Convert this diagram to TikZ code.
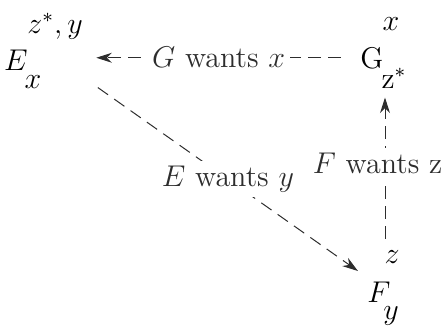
\documentclass[tikz,border=0pt]{standalone}
\usetikzlibrary{arrows.meta}
\definecolor{wline}{RGB}{45,45,45}
\tikzset{
  pnode/.style={inner sep=0pt, anchor=base, font=\large},
  pscr/.style={inner sep=0pt, anchor=base, font=\large},
  dep/.style={wline, thin, dash pattern=on 5pt off 3pt, -{Stealth[length=2.2mm,width=1.4mm]}},
  wlab/.style={fill=white, inner sep=2pt, font=\large},
}

\begin{document}
\begin{tikzpicture}[x=0.4pt,y=-0.4pt]
\useasboundingbox (0,0) rectangle (445,329);
% agents and what they hold
\node[pnode] (E) at (16,70) {$E$};
\node[pscr] (Ezy) at (55,33) {$z^*,y$};
\node[pscr] (Ex) at (33,88) {$x$};
\node[pnode] (G) at (372,68) {$\mathrm{G}$};
\node[pscr] (Gx) at (391,30) {$x$};
\node[pscr] (Gz) at (394,88) {$\mathrm{z}^*$};
\node[pnode] (F) at (379,302) {$F$};
\node[pscr] (Fz) at (392,263) {$z$};
\node[pscr] (Fy) at (391,319) {$y$};
% wants
\coordinate (gw) at ([xshift=-7.6pt]G.west);
\coordinate (ge) at (gw -| E.east);
\draw[dep] (gw) -- ([xshift=27.2pt]ge) node[wlab, midway] {$G$ wants $x$};
\draw[dep] ([xshift=22.4pt,yshift=-2.4pt]Ex.east) -- ([xshift=-3.6pt,yshift=4pt]F.north west)
  node[wlab, midway] {$E$ wants $y$};
\coordinate (fzb) at ([xshift=-2.8pt,yshift=4.4pt]Fz.north);
\draw[dep, shorten >=3.6pt] (fzb) -- (fzb |- Gz.south)
  node[wlab, midway, xshift=-3pt, inner xsep=1pt] {$F$ wants $\mathrm{z}$};
\end{tikzpicture}
\end{document}
